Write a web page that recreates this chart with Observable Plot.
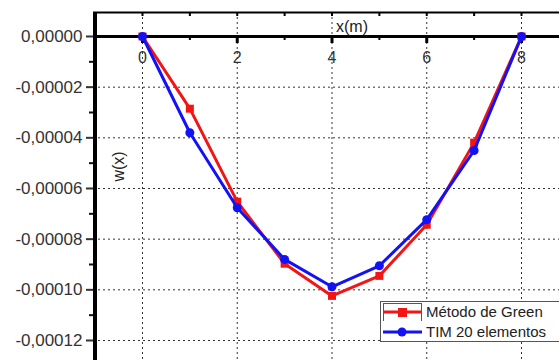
<!DOCTYPE html>
<html>
<head>
<meta charset="utf-8">
<script src="https://cdn.jsdelivr.net/npm/d3@7"></script>
<script src="https://cdn.jsdelivr.net/npm/@observablehq/plot@0.6"></script>
<style>
  html, body { margin: 0; padding: 0; background: #fff; overflow: hidden; }
  #wrap { position: relative; width: 559px; height: 360px; }
  #legend { position: absolute; left: 380px; top: 301px; width: 200px; height: 39px;
    border: 1px solid #555; background: #fff; font-family: "Liberation Sans", Arial, sans-serif;
    font-size: 15px; color: #222; }
  #legend .row { position: absolute; left: 0; height: 18px; display: flex; align-items: center; }
  #legend svg { display: block; }
  #legend span { position: absolute; left: 45px; white-space: nowrap; line-height: 18px; top: 0; }
</style>
</head>
<body>
<div id="wrap"></div>
<script>
const xs = [0, 1, 2, 3, 4, 5, 6, 7, 8];
const green = [0, -0.0000285, -0.0000652, -0.0000897, -0.0001024, -0.0000945, -0.0000743, -0.0000419, 0];
const tim = [0, -0.000038, -0.0000676, -0.000088, -0.0000988, -0.0000905, -0.0000723, -0.000045, 0];
const seriesNames = ["Método de Green", "TIM 20 elementos"];
const xMajor = [0, 2, 4, 6, 8];
const xMinor = [1, 3, 5, 7];
const yMajor = [0, -0.00002, -0.00004, -0.00006, -0.00008, -0.0001, -0.00012];
const yMinor = [-0.00001, -0.00003, -0.00005, -0.00007, -0.00009, -0.00011];
const xLabel = "x(m)";
const yLabel = "w(x)";

const red = "#f21515";
const blue = "#1212f5";
const fmt = d => (d === 0 ? 0 : d).toFixed(5).replace(".", ",");

const dataGreen = xs.map((x, i) => ({x, y: green[i]}));
const dataTim = xs.map((x, i) => ({x, y: tim[i]}));
const xAll = xMajor.concat(xMinor);
const yTop = 0.00000947;
const xLeft = -1.034;

const chart = Plot.plot({
  width: 559,
  height: 360,
  marginLeft: 93,
  marginTop: 12,
  marginRight: 0,
  marginBottom: 0,
  style: {fontFamily: "'Liberation Sans', Arial, sans-serif", background: "#fff"},
  x: {domain: [xLeft, 8.802], axis: null},
  y: {domain: [-0.0001279, yTop], axis: null},
  marks: [
    Plot.gridX(xMajor, {stroke: "#333", strokeOpacity: 1, strokeDasharray: "2,3", strokeWidth: 1}),
    Plot.gridY(yMajor.filter(d => d !== 0), {stroke: "#333", strokeOpacity: 1, strokeDasharray: "2,3", strokeWidth: 1}),
    // top frame line and its ticks
    Plot.ruleY([yTop], {stroke: "black", strokeWidth: 2}),
    Plot.ruleX(xAll, {x: d => d, y1: yTop, y2: yTop, insetBottom: -4, stroke: "black", strokeWidth: 2}),
    // x axis line at zero with ticks
    Plot.ruleY([0], {stroke: "black", strokeWidth: 3}),
    Plot.ruleX(xMajor, {x: d => d, y1: 0, y2: 0, insetBottom: -7, stroke: "black", strokeWidth: 3}),
    Plot.ruleX(xMinor, {x: d => d, y1: 0, y2: 0, insetBottom: -4, stroke: "black", strokeWidth: 2}),
    Plot.text(xMajor, {x: d => d, y: 0, dy: 21, text: d => String(d), fontSize: 16, fill: "#333"}),
    Plot.text([xLabel], {x: 4, y: 0, dx: 4, dy: -10, textAnchor: "start", fontSize: 16, fill: "#222", text: d => d, style: "letter-spacing:1px"}),
    Plot.text([yLabel], {x: -0.507, y: -0.0000513, rotate: -90, fontSize: 16, fill: "#222", text: d => d}),
    // y axis
    Plot.axisY(yMajor, {anchor: "left", label: null, tickSize: 7, tickPadding: 4, tickFormat: fmt, fontSize: 17, color: "#333", strokeWidth: 2}),
    Plot.axisY(yMinor, {anchor: "left", label: null, tickSize: 4, tickFormat: () => "", color: "#111", strokeWidth: 2}),
    Plot.ruleX([xLeft], {x: d => d, dx: 1.5, stroke: "black", strokeWidth: 4}),
    // series
    Plot.line(dataGreen, {x: "x", y: "y", stroke: red, strokeWidth: 3}),
    Plot.dot(dataGreen, {x: "x", y: "y", symbol: "square", r: 4.5, fill: red}),
    Plot.line(dataTim, {x: "x", y: "y", stroke: blue, strokeWidth: 3}),
    Plot.dot(dataTim, {x: "x", y: "y", symbol: "circle", r: 4.5, fill: blue})
  ]
});

const wrap = document.getElementById("wrap");
wrap.appendChild(chart);

const legend = document.createElement("div");
legend.id = "legend";
legend.innerHTML = `
  <div class="row" style="top:1px">
    <svg width="44" height="18">
      <rect x="2.5" y="0.5" width="38" height="18" fill="none" stroke="${red}" stroke-width="1"/>
      <line x1="2" y1="9" x2="41" y2="9" stroke="${red}" stroke-width="3"/>
      <rect x="17" y="5" width="9" height="9" fill="${red}"/>
    </svg>
    <span>${seriesNames[0]}</span>
  </div>
  <div class="row" style="top:21px">
    <svg width="44" height="18">
      <line x1="2" y1="9" x2="41" y2="9" stroke="${blue}" stroke-width="3"/>
      <circle cx="21" cy="9" r="4.5" fill="${blue}"/>
    </svg>
    <span>${seriesNames[1]}</span>
  </div>`;
wrap.appendChild(legend);
</script>
</body>
</html>
